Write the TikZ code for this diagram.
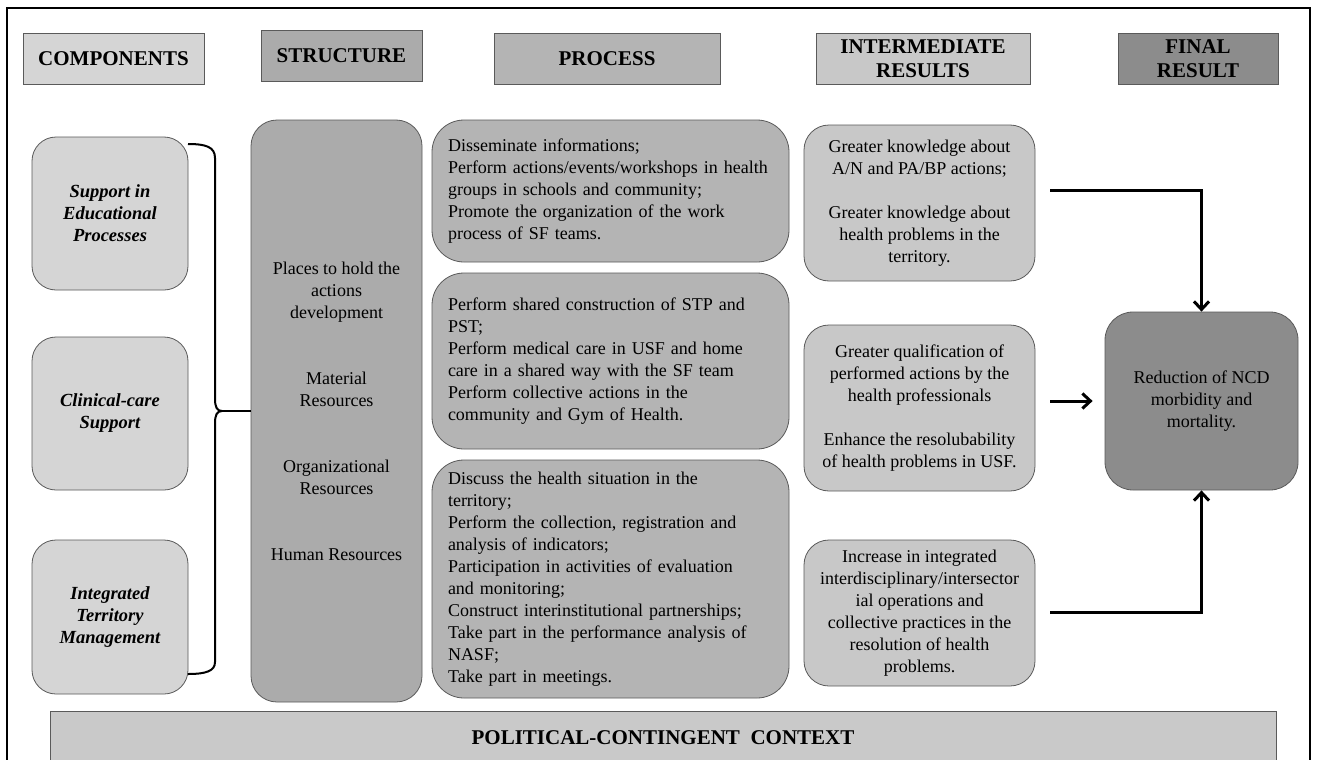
\documentclass[tikz,border=0pt]{standalone}
\usepackage{fontspec}
\setmainfont{Liberation Serif}
\usetikzlibrary{arrows.meta,calc}

\definecolor{linegray}{HTML}{5A5A5A}
\definecolor{compgray}{HTML}{D5D5D5}
\definecolor{structgray}{HTML}{ABABAB}
\definecolor{procgray}{HTML}{B4B4B4}
\definecolor{intergray}{HTML}{C8C8C8}
\definecolor{finalgray}{HTML}{8C8C8C}
\definecolor{contextgray}{HTML}{C9C9C9}

\newcommand{\headfont}{\fontsize{21}{24}\selectfont\bfseries}
\newcommand{\bodyfont}{\fontsize{18}{22}\selectfont}
\newcommand{\compfont}{\fontsize{18.5}{22}\selectfont\bfseries\itshape}

\tikzset{
  box/.style={draw=linegray, line width=0.8pt, inner sep=0pt, align=center, font=\bodyfont},
  headbox/.style={box, font=\headfont, minimum height=51pt},
  compbox/.style={box, fill=compgray, rounded corners=24pt, minimum width=156pt, minimum height=153pt, font=\compfont},
  procbox/.style={box, fill=procgray, rounded corners=32pt, inner xsep=16pt, text width=325pt, align=left},
  interbox/.style={box, fill=intergray, rounded corners=25pt, minimum width=231pt},
  flow/.style={line width=3pt, -{Straight Barb[length=8pt,width=15pt]}},
  brace/.style={line width=2pt}
}

\begin{document}
\begin{tikzpicture}[x=1pt, y=-1pt]
  \useasboundingbox (0,0) rectangle (1330,760);
  \clip (0,0) rectangle (1330,760);
  \fill[white] (0,0) rectangle (1330,760);
  \draw[line width=1.5pt] (7,8) rectangle (1310,780);

  \node[headbox, fill=compgray, minimum width=181pt] (hcomp) at (113.5,58.5) {COMPONENTS};
  \node[headbox, fill=structgray, minimum width=161pt] (hstruct) at (341.5,55.5) {STRUCTURE};
  \node[headbox, fill=procgray, minimum width=226pt] (hproc) at (607,58.5) {PROCESS};
  \node[headbox, fill=intergray, minimum width=214pt] (hinter) at (923,58.5) {INTERMEDIATE\\RESULTS};
  \node[headbox, fill=finalgray, minimum width=160pt] (hfinal) at (1198,59) {FINAL\\RESULT};

  \node[compbox] (comp1) at (110,213.5) {Support in\\Educational\\Processes};
  \node[compbox] (comp2) at (110,413.5) {Clinical-care\\Support};
  \node[compbox, minimum height=154pt] (comp3) at (110,617) {Integrated\\Territory\\Management};

  \node[box, fill=structgray, rounded corners=26pt, minimum width=171pt, minimum height=582pt] (struct) at (336.5,411)
    {Places to hold the\\actions\\development\\[44pt]Material\\Resources\\[44pt]Organizational\\Resources\\[44pt]Human Resources};

  \coordinate (tip) at (222,411);
  \draw[brace] (188,144) .. controls (206,144) and (215,147) .. (215,158) -- (215,399)
    .. controls (215,407) and (217,411) .. (tip)
    .. controls (217,411) and (215,415) .. (215,423) -- (215,662)
    .. controls (215,671) and (206,674) .. (188,674);
  \draw[brace] (tip) -- (struct.west);

  \node[procbox, minimum height=142pt] (proc1) at (610.5,191)
    {Disseminate informations;\\Perform actions/events/workshops in health\\groups in schools and community;\\Promote the organization of the work\\process of SF teams.};
  \node[procbox, minimum height=176pt] (proc2) at (610.5,361)
    {Perform shared construction of STP and\\PST;\\Perform medical care in USF and home\\care in a shared way with the SF team\\Perform collective actions in the\\community and Gym of Health.};
  \node[procbox, minimum height=238pt] (proc3) at (610.5,579)
    {Discuss the health situation in the\\territory;\\Perform the collection, registration and\\analysis of indicators;\\Participation in activities of evaluation\\and monitoring;\\Construct interinstitutional partnerships;\\Take part in the performance analysis of\\NASF;\\Take part in meetings.};

  \node[interbox, minimum height=156pt] (inter1) at (919.5,203)
    {Greater knowledge about\\A/N and PA/BP actions;\\[22pt]Greater knowledge about\\health problems in the\\territory.};
  \node[interbox, minimum height=166pt] (inter2) at (919.5,408)
    {Greater qualification of\\performed actions by the\\health professionals\\[22pt]Enhance the resolubability\\of health problems in USF.};
  \node[interbox, minimum height=146pt] (inter3) at (919.5,613)
    {Increase in integrated\\interdisciplinary/intersector\\ial operations and\\collective practices in the\\resolution of health\\problems.};

  \node[box, fill=finalgray, rounded corners=28pt, minimum width=193pt, minimum height=178pt] (final) at (1201.5,401)
    {Reduction of NCD\\morbidity and\\mortality.};

  \draw[flow] ($(inter1.east)+(15,-13)$) -| (final.north);
  \draw[flow] ($(inter2.east |- final.west)+(15,0)$) -- ($(final.west)+(-12,0)$);
  \draw[flow] ($(inter3.east)+(15,-1)$) -| (final.south);

  \node[box, fill=contextgray, font=\headfont, minimum width=1226pt, minimum height=54pt] (context) at (663,738)
    {POLITICAL-CONTINGENT\ \ CONTEXT};
\end{tikzpicture}
\end{document}
